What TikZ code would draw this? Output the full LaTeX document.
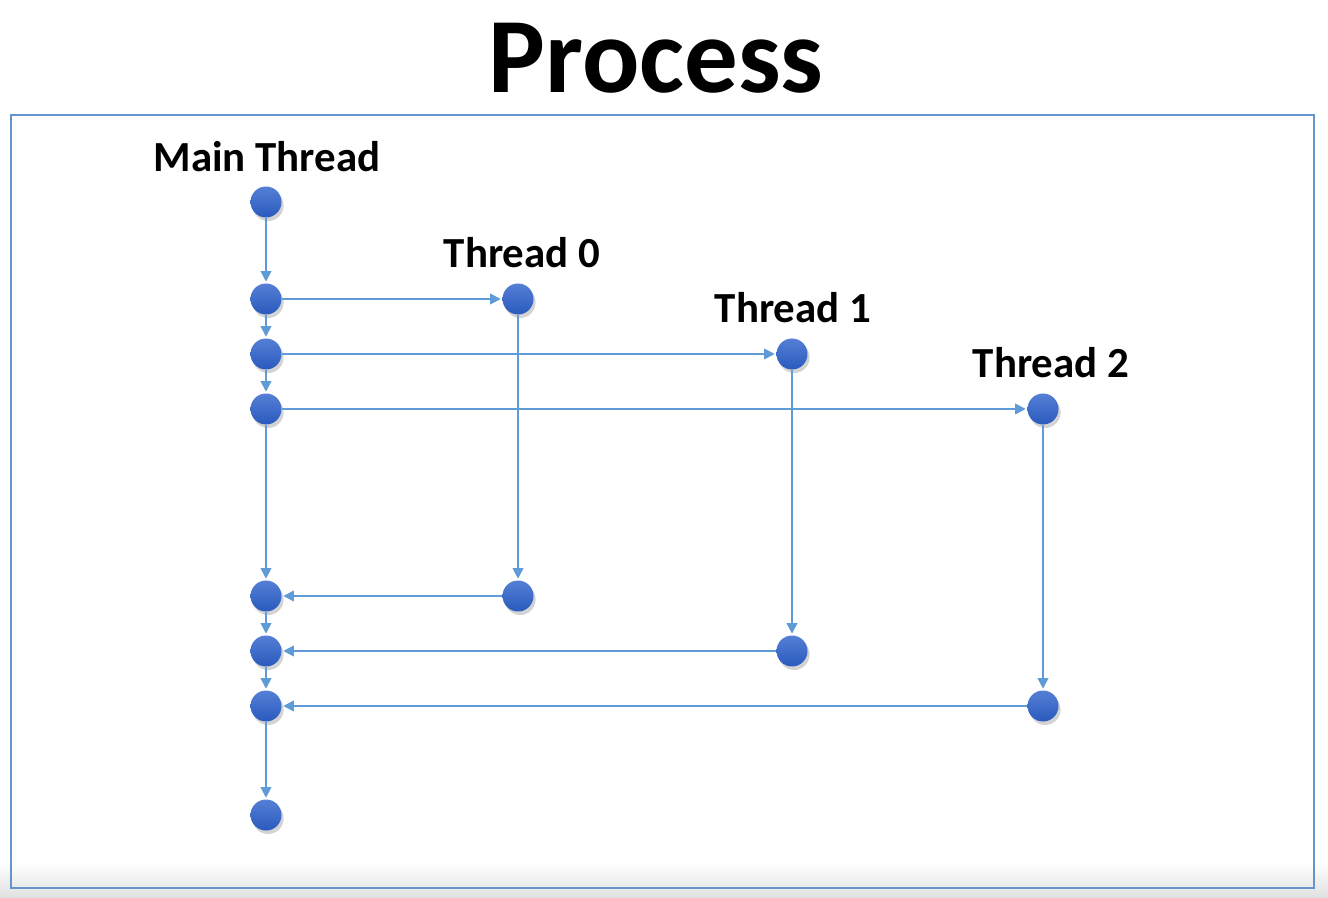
\documentclass[tikz,border=0pt]{standalone}
\usepackage{fontspec}
\setmainfont{Carlito}
\definecolor{DotBlue}{RGB}{55,105,205}
\definecolor{DotDark}{RGB}{42,90,190}
\definecolor{FlowBlue}{RGB}{95,155,215}
\definecolor{FrameBlue}{RGB}{100,150,205}
\usetikzlibrary{
  positioning,
  arrows.meta,
  shadows
}
\tikzset{
  % Thread event dot
  tdot/.style={
    circle,
    top color=DotBlue!85!white,
    bottom color=DotDark,
    draw=none,
    minimum size=31\unitlen,
    inner sep=0pt,
    drop shadow={opacity=0.35, shadow xshift=0.6pt, shadow yshift=-1pt}
  },
  % Connector
  flow/.style={
    draw=FlowBlue,
    line width=0.5pt,
    -{Triangle[length=3pt,width=3pt]},
    shorten >=0.3pt
  },
  % Thread name
  tlabel/.style={
    font=\fontsize{12.2}{14}\selectfont\bfseries,
    inner sep=0pt
  },
  % Title
  ptitle/.style={
    font=\fontsize{30.4}{36}\selectfont\bfseries,
    inner sep=0pt
  }
}
\newlength{\unitlen}
\setlength{\unitlen}{0.01cm}

\begin{document}
\begin{tikzpicture}[x=0.01cm, y=-0.01cm]
  \useasboundingbox (0,0) rectangle (1328,898);
  % page background
  \shade[top color=white, bottom color=black!12] (0,862) rectangle (1328,898);
  \draw[FrameBlue, line width=0.6pt] (11,115) rectangle (1314,888);

  % title
  \node[ptitle] (title) at (656,58) {Process};

  % main thread
  \foreach \n/\y in {0/202,1/299,2/354,3/409,4/596,5/651,6/706,7/815} {
    \node[tdot] (m\n) at (266,\y) {};
  }
  \node[tlabel] (mlab) at (267,157) {Main Thread};
  \foreach \i/\j in {0/1,1/2,2/3,3/4,4/5,5/6,6/7} {
    \draw[flow] (m\i) -- (m\j);
  }

  % worker threads
  \foreach \k/\x/\ya/\yb/\ms/\me/\lx in {0/518/299/596/1/4/522, 1/792/354/651/2/5/793, 2/1043/409/706/3/6/1051} {
    \node[tdot] (s\k) at (\x,\ya) {};
    \node[tdot] (e\k) at (\x,\yb) {};
    \node[tlabel] (tlab\k) at (\lx,\ya-46) {Thread \k};
    \draw[flow] (m\ms) -- (s\k);
    \draw[flow] (s\k) -- (e\k);
    \draw[flow] (e\k) -- (m\me);
  }
\end{tikzpicture}
\end{document}
